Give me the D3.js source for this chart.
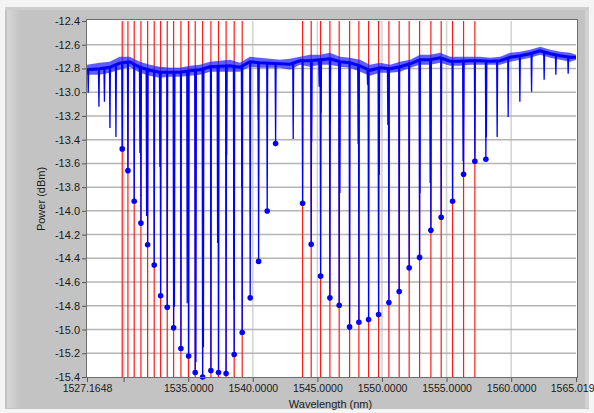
<!DOCTYPE html>
<html>
  <head>
    <meta charset="utf-8">
    <title>FBG spectrum</title>
    <script src="https://cdn.jsdelivr.net/npm/d3@7"></script>
    <style>
      body { margin: 0; background: #f0f0f0; }
      svg { display: block; font-family: 'Liberation Sans', Arial, sans-serif; }
      .tick text { fill: #1a1a1a; font-size: 10.5px; }
      .y-axis .tick text { font-size: 11px; }
      .tick line { stroke: #555; }
      .domain { display: none; }
    </style>
  </head>
  <body>
    <div id="chart"></div>
    <script>

    //****** data ******

    // noise band of the spectrum (upper / lower envelope, dBm)
    var bandWl = [1527.17, 1528.14, 1528.92, 1529.69, 1530.46, 1531.26, 1532.02, 1532.81, 1533.58, 1534.36,
                  1535.13, 1535.91, 1536.68, 1537.45, 1538.23, 1539.00, 1539.78, 1540.55, 1541.32, 1542.10,
                  1542.87, 1543.65, 1544.42, 1545.20, 1545.97, 1546.75, 1547.52, 1548.30, 1549.07, 1549.85,
                  1550.62, 1551.40, 1552.17, 1552.95, 1553.72, 1554.50, 1555.27, 1556.05, 1556.82, 1557.60,
                  1558.37, 1559.15, 1559.92, 1560.70, 1561.47, 1562.25, 1563.02, 1563.80, 1564.57, 1565.02];
    var bandHi = [-12.769, -12.752, -12.744, -12.701, -12.701, -12.744, -12.769, -12.786, -12.794, -12.794,
                  -12.777, -12.769, -12.744, -12.735, -12.727, -12.752, -12.701, -12.710, -12.718, -12.727,
                  -12.718, -12.701, -12.684, -12.684, -12.668, -12.701, -12.710, -12.727, -12.769, -12.752,
                  -12.769, -12.744, -12.727, -12.684, -12.684, -12.668, -12.701, -12.701, -12.701, -12.701,
                  -12.710, -12.701, -12.668, -12.659, -12.642, -12.617, -12.642, -12.659, -12.668, -12.684];
    var bandLo = [-12.853, -12.853, -12.836, -12.811, -12.786, -12.836, -12.862, -12.879, -12.870, -12.870,
                  -12.862, -12.853, -12.828, -12.828, -12.828, -12.828, -12.786, -12.794, -12.794, -12.794,
                  -12.811, -12.769, -12.786, -12.769, -12.769, -12.786, -12.794, -12.828, -12.862, -12.836,
                  -12.836, -12.828, -12.794, -12.769, -12.769, -12.752, -12.777, -12.777, -12.769, -12.769,
                  -12.769, -12.769, -12.744, -12.727, -12.710, -12.684, -12.710, -12.727, -12.744, -12.727];

    // grating minima (blue dots)
    var peakWl = [1529.892, 1530.333, 1530.820, 1531.339, 1531.858, 1532.368, 1532.864, 1533.375, 1533.870, 1534.435,
                  1535.031, 1535.542, 1536.115, 1536.757, 1537.345, 1537.933, 1538.560, 1539.180, 1539.799, 1540.449,
                  1541.115, 1541.765,
                  1543.854, 1544.520, 1545.248, 1545.967, 1546.687, 1547.492, 1548.212, 1548.963, 1549.737, 1550.534,
                  1551.331, 1552.105, 1552.910, 1553.785, 1554.582, 1555.464, 1556.316, 1557.190, 1558.042];
    var peakPow = [-13.478, -13.661, -13.919, -14.103, -14.286, -14.457, -14.716, -14.812, -14.986, -15.160,
                   -15.223, -15.363, -15.400, -15.346, -15.363, -15.371, -15.211, -15.025, -14.733, -14.426,
                   -14.001, -13.433,
                   -13.936, -14.282, -14.550, -14.733, -14.795, -14.978, -14.938, -14.915, -14.873, -14.772,
                   -14.679, -14.480, -14.392, -14.164, -14.054, -13.919, -13.691, -13.582, -13.565];

    // other dips of the trace (no marker)
    var dipWl = [1527.260, 1528.088, 1528.514, 1528.940, 1529.404, 1531.262, 1531.780, 1532.810, 1533.932, 1534.923,
                 1535.596, 1536.176, 1537.276, 1537.972, 1538.537, 1539.150, 1540.433, 1543.127, 1544.551, 1545.139,
                 1545.280, 1545.990, 1546.741, 1548.158, 1548.885, 1549.783, 1550.457, 1552.934, 1553.731, 1556.285,
                 1558.080, 1558.916, 1559.768, 1560.673, 1561.579, 1562.554, 1563.460, 1564.412];
    var dipPow = [-13.005, -13.123, -13.081, -13.301, -13.377, -13.512, -14.043, -13.630, -14.808, -14.778,
                  -15.276, -15.149, -14.271, -13.529, -14.752, -13.799, -13.233, -13.394, -13.419, -12.955,
                  -13.174, -13.258, -13.849, -13.436, -12.938, -13.697, -13.276, -13.849, -13.765, -13.579,
                  -13.377, -13.377, -13.208, -13.081, -12.997, -12.896, -12.853, -12.845];

    // reference wavelengths (red cursors)
    var cursorWl = [1529.892, 1530.333, 1530.820, 1531.339, 1531.858, 1532.368, 1532.864, 1533.375, 1533.870, 1534.435,
                    1535.031, 1535.542, 1536.115, 1536.757, 1537.345, 1537.933, 1538.560, 1539.180,
                    1543.854, 1544.520, 1545.248, 1545.967, 1546.687, 1547.492, 1548.212, 1548.963, 1549.737, 1550.534,
                    1551.331, 1552.105, 1552.910, 1553.785, 1554.582, 1555.464, 1556.316, 1557.190];

    var xTicks = [1527.1648, 1530, 1535, 1540, 1545, 1550, 1555, 1560, 1565.019];
    var xTickLabels = ["1527.1648", "", "1535.0000", "1540.0000", "1545.0000", "1550.0000", "1555.0000", "1560.0000", "1565.019"];
    var yTicks = [-12.4, -12.6, -12.8, -13.0, -13.2, -13.4, -13.6, -13.8, -14.0, -14.2, -14.4, -14.6, -14.8, -15.0, -15.2, -15.4];

    //****** layout ******
    var width = 594, height = 413;
    var margin = {top: 21, right: 18, bottom: 36, left: 87};

    var svg = d3.select("#chart").append("svg").attr("width", width).attr("height", height);

    var xScale = d3.scaleLinear().domain([1527.1648, 1565.019]).range([margin.left, width - margin.right]);
    var yScale = d3.scaleLinear().domain([-15.4, -12.4]).range([height - margin.bottom, margin.top]);

    // window frame
    svg.append("rect").attr("x", 0).attr("y", 0).attr("width", width).attr("height", height).attr("fill", "#f4f4f4");
    svg.append("rect").attr("x", 5).attr("y", 7).attr("width", 584).attr("height", 402).attr("fill", "#c3c3c3");
    var grad = svg.append("defs").append("linearGradient").attr("id", "lstrip");
    grad.append("stop").attr("offset", "0%").attr("stop-color", "#d6d6d6");
    grad.append("stop").attr("offset", "100%").attr("stop-color", "#c3c3c3");
    svg.append("rect").attr("x", 7).attr("y", 10).attr("width", 14).attr("height", 398).attr("fill", "url(#lstrip)");
    svg.append("rect").attr("x", 5).attr("y", 7).attr("width", 584).attr("height", 3).attr("fill", "#cdcdcd");
    svg.append("rect").attr("x", 585).attr("y", 10).attr("width", 4).attr("height", 398).attr("fill", "#d2d2d2");

    // plot area
    var x0 = xScale.range()[0], x1 = xScale.range()[1];
    var y0 = yScale.range()[1], y1 = yScale.range()[0];
    svg.append("rect").attr("x", x0).attr("y", y0 - 1).attr("width", x1 - x0 + 1).attr("height", y1 - y0 + 1)
        .attr("fill", "white");

    var plot = svg.append("g");

    // grid
    plot.selectAll("line.vgrid")
        .data(xTicks.slice(1, -1))
        .enter().append("line").attr("class", "vgrid")
        .attr("x1", d => xScale(d)).attr("x2", d => xScale(d))
        .attr("y1", y0).attr("y2", y1)
        .attr("stroke", "#d2d2d2").attr("stroke-width", 1.5);

    plot.selectAll("line.hgrid")
        .data(yTicks.slice(1, -1))
        .enter().append("line").attr("class", "hgrid")
        .attr("x1", x0).attr("x2", x1)
        .attr("y1", d => yScale(d)).attr("y2", d => yScale(d))
        .attr("stroke", "#b4b4b4").attr("stroke-width", 1.5);

    // red cursors
    plot.selectAll("line.cursor")
        .data(cursorWl)
        .enter().append("line").attr("class", "cursor")
        .attr("x1", d => xScale(d)).attr("x2", d => xScale(d))
        .attr("y1", y0).attr("y2", y1)
        .attr("stroke", "#ff1a1a").attr("stroke-width", 1.2);

    // spectrum: noise band
    var bandData = bandWl.map((w, i) => ({w: w, hi: bandHi[i], lo: bandLo[i]}));
    var area = d3.area()
        .x(d => xScale(d.w))
        .y0(d => yScale(d.lo))
        .y1(d => yScale(d.hi));
    plot.append("path").datum(bandData)
        .attr("d", area)
        .attr("fill", "#2020ff")
        .attr("fill-opacity", 0.72);

    // a darker core line through the band
    plot.append("path").datum(bandData)
        .attr("d", d3.line().x(d => xScale(d.w)).y(d => yScale((d.hi + d.lo) / 2)))
        .attr("fill", "none")
        .attr("stroke", "#0000ff")
        .attr("stroke-width", 3);

    // baseline level used as the start of each dip
    var baseAt = d3.scaleLinear().domain(bandWl).range(bandWl.map((w, i) => (bandHi[i] + bandLo[i]) / 2)).clamp(true);

    var dipLine = function(w, p) {
        var hw = 0.035;
        return "M" + xScale(w - hw) + "," + yScale(baseAt(w - hw)) +
               "L" + xScale(w) + "," + yScale(p) +
               "L" + xScale(w + hw) + "," + yScale(baseAt(w + hw));
    };

    var allDips = dipWl.map((w, i) => [w, dipPow[i]])
        .concat(peakWl.map((w, i) => [w, peakPow[i]]));

    plot.selectAll("path.dip")
        .data(allDips)
        .enter().append("path").attr("class", "dip")
        .attr("d", d => dipLine(d[0], d[1]))
        .attr("fill", "none")
        .attr("stroke", "#0000ff")
        .attr("stroke-width", 1.3);

    // markers
    plot.selectAll("circle.peak")
        .data(peakWl)
        .enter().append("circle").attr("class", "peak")
        .attr("cx", d => xScale(d))
        .attr("cy", (d, i) => yScale(peakPow[i]))
        .attr("r", 2.8)
        .attr("fill", "#0000ff");

    // plot border
    svg.append("rect").attr("x", x0 - 0.5).attr("y", y0 - 1.5).attr("width", x1 - x0 + 2).attr("height", y1 - y0 + 2)
        .attr("fill", "none").attr("stroke", "#6e6e6e").attr("stroke-width", 1);

    // axes
    svg.append("g").attr("class", "x-axis")
        .attr("transform", `translate(0, ${y1 + 1})`)
        .call(d3.axisBottom(xScale).tickValues(xTicks).tickSize(4).tickPadding(3)
            .tickFormat((d, i) => xTickLabels[i]));

    // keep the last label inside the window
    svg.selectAll(".x-axis .tick:last-of-type text").attr("text-anchor", "end").attr("dx", 18);

    svg.append("g").attr("class", "y-axis")
        .attr("transform", `translate(${x0 - 1}, 0)`)
        .call(d3.axisLeft(yScale).tickValues(yTicks).tickSize(4).tickPadding(2)
            .tickFormat(d => d.toFixed(1)));

    svg.append("text")
        .attr("x", (x0 + x1) / 2 - 1).attr("y", 408)
        .attr("text-anchor", "middle")
        .style("font-size", "11px").attr("fill", "#1a1a1a")
        .text("Wavelength (nm)");

    svg.append("text")
        .attr("transform", "translate(45,199) rotate(-90)")
        .attr("text-anchor", "middle")
        .style("font-size", "11px").attr("fill", "#1a1a1a")
        .text("Power (dBm)");

    </script>
  </body>
</html>
